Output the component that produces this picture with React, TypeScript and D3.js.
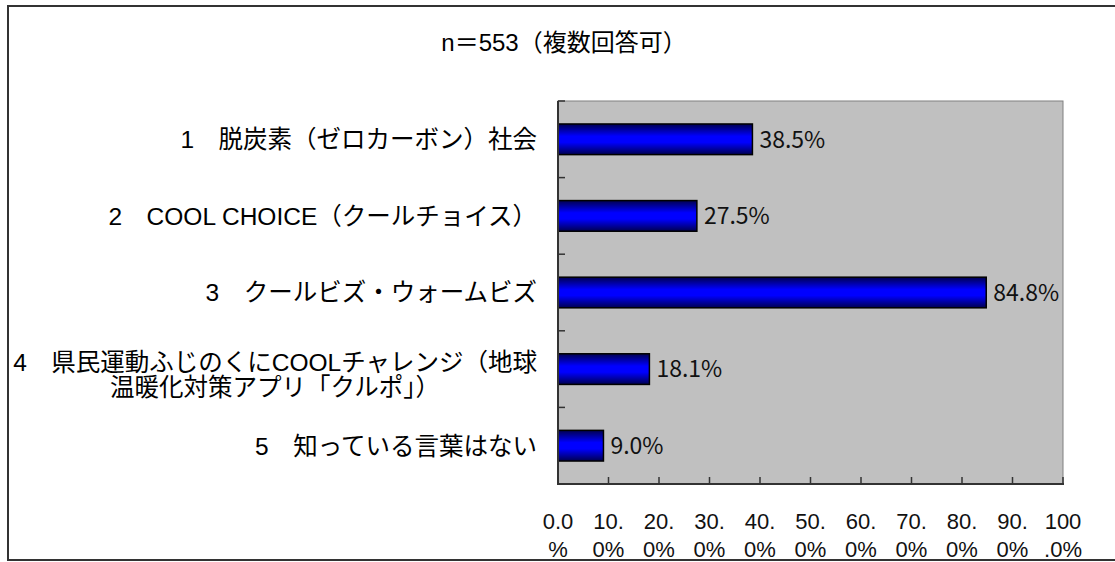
import React, { useEffect, useRef } from 'react';
import * as d3 from 'd3';

// Chart data
const title = 'n＝553（複数回答可）';
const categories = [
  ['1　脱炭素（ゼロカーボン）社会'],
  ['2　COOL CHOICE（クールチョイス）'],
  ['3　クールビズ・ウォームビズ'],
  ['4　県民運動ふじのくにCOOLチャレンジ（地球', '温暖化対策アプリ「クルポ」）'],
  ['5　知っている言葉はない'],
];
const values = [0.385, 0.275, 0.848, 0.181, 0.09];
const tickValues = [0, 0.1, 0.2, 0.3, 0.4, 0.5, 0.6, 0.7, 0.8, 0.9, 1.0];

const W = 1115;
const H = 562;
const FONT = '"Liberation Sans", "Noto Sans CJK JP", sans-serif';

const App: React.FC = () => {
  const svgRef = useRef<SVGSVGElement>(null);

  useEffect(() => {
    if (!svgRef.current) return;
    const svg = d3.select(svgRef.current);
    svg.selectAll('*').remove();

    const plot = { left: 558, right: 1063, top: 101, bottom: 484 };

    const x = d3.scaleLinear().domain([0, 1]).range([plot.left, plot.right]);
    const keys = categories.map((_, i) => String(i));
    const y = d3.scaleBand<string>()
      .domain(keys)
      .range([plot.top, plot.bottom])
      .paddingInner(0.6)
      .paddingOuter(0.3);

    // gradient for bars
    const defs = svg.append('defs');
    const grad = defs.append('linearGradient')
      .attr('id', 'bar-grad')
      .attr('x1', 0).attr('y1', 0).attr('x2', 0).attr('y2', 1);
    grad.append('stop').attr('offset', '0%').attr('stop-color', '#000050');
    grad.append('stop').attr('offset', '40%').attr('stop-color', '#0000ff');
    grad.append('stop').attr('offset', '60%').attr('stop-color', '#0000ff');
    grad.append('stop').attr('offset', '100%').attr('stop-color', '#000050');

    // outer frame
    svg.append('rect')
      .attr('x', 8).attr('y', 6)
      .attr('width', W + 20).attr('height', 554)
      .attr('fill', '#fff')
      .attr('stroke', '#333').attr('stroke-width', 2);

    // title
    svg.append('text')
      .attr('x', 564).attr('y', 51)
      .attr('text-anchor', 'middle')
      .style('font-family', FONT)
      .style('font-size', '24px')
      .attr('fill', '#000')
      .text(title);

    // plot background
    svg.append('rect')
      .attr('x', plot.left).attr('y', plot.top)
      .attr('width', plot.right - plot.left).attr('height', plot.bottom - plot.top)
      .attr('fill', '#c0c0c0')
      .attr('stroke', '#808080').attr('stroke-width', 1);

    // bars
    svg.selectAll('.bar')
      .data(values)
      .enter()
      .append('rect')
      .attr('class', 'bar')
      .attr('x', x(0))
      .attr('y', (_, i) => y(String(i))!)
      .attr('width', d => x(d) - x(0))
      .attr('height', y.bandwidth())
      .attr('fill', 'url(#bar-grad)')
      .attr('stroke', '#000').attr('stroke-width', 1.5);

    // value labels
    svg.selectAll('.val')
      .data(values)
      .enter()
      .append('text')
      .attr('class', 'val')
      .attr('x', d => x(d) + 7)
      .attr('y', (_, i) => y(String(i))! + y.bandwidth() / 2)
      .attr('dy', '0.36em')
      .style('font-family', '"Noto Sans CJK JP", sans-serif')
      .style('font-size', '23px')
      .attr('fill', '#111')
      .text(d => d3.format('.1%')(d));

    // axes lines
    svg.append('line')
      .attr('x1', plot.left).attr('x2', plot.left)
      .attr('y1', plot.top).attr('y2', plot.bottom + 1)
      .attr('stroke', '#333').attr('stroke-width', 2);
    svg.append('line')
      .attr('x1', plot.left - 1).attr('x2', plot.right + 1)
      .attr('y1', plot.bottom).attr('y2', plot.bottom)
      .attr('stroke', '#333').attr('stroke-width', 2);

    // y tick marks at band boundaries
    const step = y.step();
    d3.range(categories.length + 1).forEach(i => {
      const yy = plot.top + i * step;
      svg.append('line')
        .attr('x1', plot.left).attr('x2', plot.left + 7)
        .attr('y1', yy).attr('y2', yy)
        .attr('stroke', '#333').attr('stroke-width', 1.5);
    });

    // x ticks (inside)
    svg.selectAll('.xtick')
      .data(tickValues)
      .enter()
      .append('line')
      .attr('x1', d => x(d)).attr('x2', d => x(d))
      .attr('y1', plot.bottom).attr('y2', plot.bottom - 7)
      .attr('stroke', '#333').attr('stroke-width', 1.5);

    // x tick labels, wrapped after 3 characters
    const fmt = d3.format('.1%');
    const xl = svg.selectAll('.xlab')
      .data(tickValues)
      .enter()
      .append('text')
      .attr('text-anchor', 'middle')
      .style('font-family', FONT)
      .style('font-size', '22px')
      .attr('fill', '#111');
    xl.append('tspan')
      .attr('x', d => x(d)).attr('y', 529)
      .text(d => fmt(d).slice(0, 3));
    xl.append('tspan')
      .attr('x', d => x(d)).attr('y', 557)
      .text(d => fmt(d).slice(3));

    // category labels (multi-line blocks centred, right-aligned as a block)
    categories.forEach((lines, i) => {
      const cy = y(String(i))! + y.bandwidth() / 2;
      const g = svg.append('g');
      const lh = 25;
      const y0 = cy - ((lines.length - 1) * lh) / 2 + (lines.length > 1 ? 6 : 0);
      const texts = lines.map((ln, j) =>
        g.append('text')
          .attr('y', y0 + j * lh)
          .attr('dy', '0.36em')
          .style('font-family', FONT)
          .style('font-size', '24.5px')
          .attr('fill', '#000')
          .text(ln)
      );
      const widths = texts.map(t => (t.node() as SVGTextElement).getComputedTextLength());
      const maxW = Math.max(...widths);
      const center = 537 - maxW / 2;
      texts.forEach(t => {
        t.attr('x', center).attr('text-anchor', 'middle');
      });
    });
  }, []);

  return (
    <svg
      ref={svgRef}
      width={W}
      height={H}
      style={{ position: 'absolute', left: 0, top: 0, background: '#fff' }}
    />
  );
};

export default App;
